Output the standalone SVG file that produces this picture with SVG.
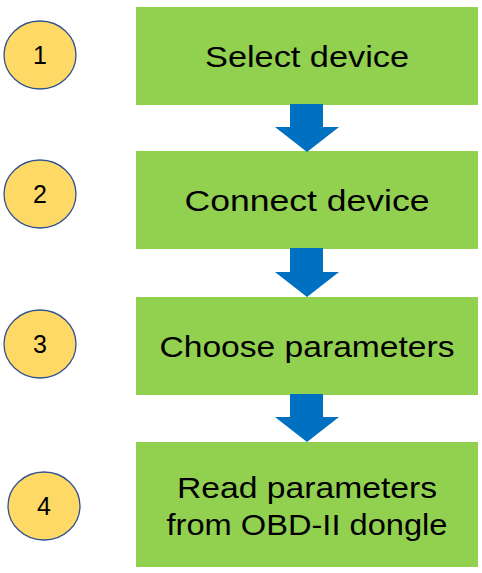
<svg xmlns="http://www.w3.org/2000/svg" width="482" height="573" viewBox="0 0 482 573">
<style>
.box{fill:#92D050}
.lbl{font-family:"Liberation Sans",Arial,sans-serif;font-size:30px;fill:#000;text-anchor:middle}
.num{fill:#FFD966;stroke:#2F528F;stroke-width:1.3}
.numt{font-family:"Liberation Sans",Arial,sans-serif;font-size:25px;fill:#000;text-anchor:middle}
.arr{fill:#0070C0}
</style>
<rect width="482" height="573" fill="#fff"/>
<g id="step1">
<rect class="box" x="136" y="7" width="342" height="98"/>
<text class="lbl" x="307" y="67" textLength="204" lengthAdjust="spacingAndGlyphs">Select device</text>
</g>
<g id="step2">
<rect class="box" x="136" y="151" width="342" height="98"/>
<text class="lbl" x="307" y="211" textLength="245" lengthAdjust="spacingAndGlyphs">Connect device</text>
</g>
<g id="step3">
<rect class="box" x="136" y="297" width="342" height="98"/>
<text class="lbl" x="307" y="357" textLength="295" lengthAdjust="spacingAndGlyphs">Choose parameters</text>
</g>
<g id="step4">
<rect class="box" x="136" y="442" width="342" height="125"/>
<text class="lbl" x="307" y="498" textLength="260" lengthAdjust="spacingAndGlyphs">Read parameters</text>
<text class="lbl" x="307" y="535" textLength="281" lengthAdjust="spacingAndGlyphs">from OBD-II dongle</text>
</g>
<g id="num1"><ellipse class="num" cx="40" cy="55" rx="36" ry="34"/><text class="numt" x="40" y="64">1</text></g>
<g id="num2"><ellipse class="num" cx="40" cy="194" rx="36" ry="34"/><text class="numt" x="40" y="203">2</text></g>
<g id="num3"><ellipse class="num" cx="40" cy="344" rx="36" ry="34"/><text class="numt" x="40" y="353">3</text></g>
<g id="num4"><ellipse class="num" cx="44" cy="506" rx="36" ry="34"/><text class="numt" x="44" y="515">4</text></g>
<g id="connectors">
<polygon class="arr" points="290,104 323,104 323,127 339,127 307,152 275,127 290,127"/>
<polygon class="arr" points="290,248 323,248 323,272 339,272 307,297 275,272 290,272"/>
<polygon class="arr" points="290,394 323,394 323,417 339,417 307,442 275,417 290,417"/>
</g>
</svg>
